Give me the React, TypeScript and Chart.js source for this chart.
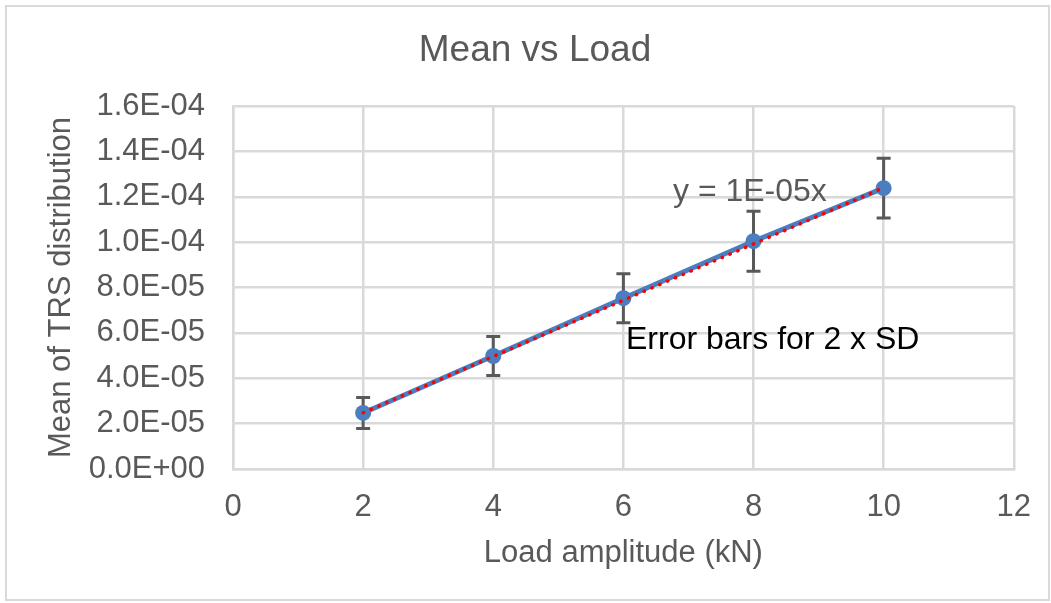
import React, { useEffect, useRef } from "react";
import { Chart, registerables } from "chart.js";

Chart.register(...registerables);

const loads = [2, 4, 6, 8, 10];
const means = [2.47e-5, 4.98e-5, 7.53e-5, 1.004e-4, 1.238e-4];
const errors = [0.68e-5, 0.86e-5, 1.08e-5, 1.32e-5, 1.32e-5];
const trendX = [2, 10];
const trendY = [2.48e-5, 1.24e-4];

const FONT = "'Liberation Sans', Arial, Helvetica, sans-serif";
const GREY = "#595959";
const GRID = "#D9D9D9";

function fmtSci(v: number): string {
  if (Math.abs(v) < 1e-12) return "0.0E+00";
  let exp = Math.floor(Math.log10(Math.abs(v)));
  let mant = v / Math.pow(10, exp);
  let m = Number(mant.toFixed(1));
  if (Math.abs(m) >= 10) {
    m = m / 10;
    exp += 1;
  }
  const sign = exp < 0 ? "-" : "+";
  const e = String(Math.abs(exp)).padStart(2, "0");
  return m.toFixed(1) + "E" + sign + e;
}

const framePlugin = {
  id: "frame",
  beforeDraw(chart: any) {
    const ctx = chart.ctx;
    ctx.save();
    ctx.fillStyle = "#ffffff";
    ctx.fillRect(0, 0, chart.width, chart.height);
    ctx.strokeStyle = GRID;
    ctx.lineWidth = 2;
    ctx.strokeRect(6, 6, 1043, 594);
    ctx.restore();
  },
};

const errorBarPlugin = {
  id: "errorBars",
  beforeDatasetsDraw(chart: any) {
    const ctx = chart.ctx;
    const xs = chart.scales.x;
    const ys = chart.scales.y;
    ctx.save();
    ctx.strokeStyle = GREY;
    ctx.lineWidth = 3;
    loads.forEach((x, i) => {
      const px = xs.getPixelForValue(x);
      const top = ys.getPixelForValue(means[i] + errors[i]);
      const bot = ys.getPixelForValue(means[i] - errors[i]);
      ctx.beginPath();
      ctx.moveTo(px, top);
      ctx.lineTo(px, bot);
      ctx.moveTo(px - 7, top);
      ctx.lineTo(px + 7, top);
      ctx.moveTo(px - 7, bot);
      ctx.lineTo(px + 7, bot);
      ctx.stroke();
    });
    ctx.restore();
  },
};

const textPlugin = {
  id: "annotTexts",
  afterDraw(chart: any) {
    const ctx = chart.ctx;
    ctx.save();
    ctx.font = `32px ${FONT}`;
    ctx.textBaseline = "middle";
    ctx.textAlign = "left";
    ctx.fillStyle = GREY;
    ctx.fillText("y = 1E-05x", 673, 192);
    ctx.fillStyle = "#000000";
    ctx.fillText("Error bars for 2 x SD", 626, 340);
    ctx.restore();
  },
};

export default function App() {
  const ref = useRef<HTMLCanvasElement | null>(null);

  useEffect(() => {
    document.body.style.margin = "0";
    const canvas = ref.current;
    if (!canvas) return;
    const chart = new Chart(canvas, {
      type: "scatter",
      data: {
        datasets: [
          {
            label: "Trend",
            data: trendX.map((x, i) => ({ x, y: trendY[i] })),
            showLine: true,
            borderColor: "#FF0000",
            borderWidth: 3.5,
            borderDash: [0.5, 8],
            borderCapStyle: "round",
            pointRadius: 0,
            order: 0,
          },
          {
            label: "Mean",
            data: loads.map((x, i) => ({ x, y: means[i] })),
            showLine: true,
            borderColor: "#4A7EC0",
            backgroundColor: "#4A7EC0",
            borderWidth: 5,
            pointRadius: 8,
            pointBorderWidth: 0,
            order: 1,
          },
        ],
      },
      options: {
        responsive: false,
        animation: false,
        devicePixelRatio: 1,
        layout: { padding: { top: 0, left: 54, right: 35, bottom: 0 } },
        plugins: {
          legend: { display: false },
          tooltip: { enabled: false },
          title: {
            display: true,
            text: "Mean vs Load",
            color: GREY,
            font: { family: FONT, size: 37, weight: "normal" },
            padding: { top: 29, bottom: 32.6 },
          },
        },
        scales: {
          x: {
            type: "linear",
            min: 0,
            max: 12,
            ticks: {
              stepSize: 2,
              color: GREY,
              font: { family: FONT, size: 31 },
              padding: 20,
            },
            grid: { color: GRID, lineWidth: 2.5, drawTicks: false },
            border: { color: GRID, width: 2.5 },
            title: {
              display: true,
              text: "Load amplitude (kN)",
              color: GREY,
              font: { family: FONT, size: 31 },
              padding: { top: 0, bottom: 31 },
            },
            afterFit(scale: any) {
              scale.height = 134;
            },
          },
          y: {
            min: 0,
            max: 1.6e-4,
            ticks: {
              stepSize: 2e-5,
              color: GREY,
              font: { family: FONT, size: 31 },
              padding: 28,
              callback: (v: any) => fmtSci(Number(v)),
            },
            grid: { color: GRID, lineWidth: 2.5, drawTicks: false },
            border: { color: GRID, width: 2.5 },
            title: {
              display: true,
              text: "Mean of TRS distribution",
              color: GREY,
              font: { family: FONT, size: 31 },
              padding: { top: -11, bottom: 0 },
            },
            afterFit(scale: any) {
              scale.width = 179;
            },
          },
        },
      },
      plugins: [framePlugin, errorBarPlugin, textPlugin],
    });
    return () => chart.destroy();
  }, []);

  return (
    <div style={{ position: "fixed", left: 0, top: 0, width: 1051, height: 603, background: "#fff" }}>
      <canvas ref={ref} width={1051} height={603} />
    </div>
  );
}
